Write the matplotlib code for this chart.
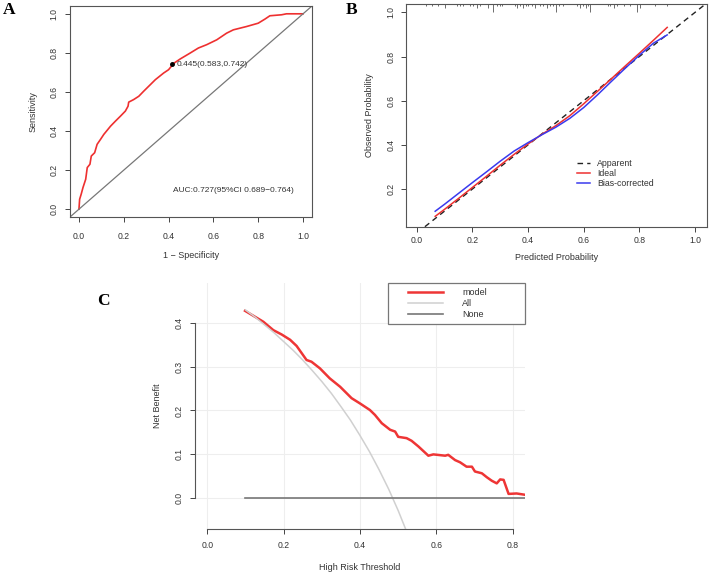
import matplotlib
matplotlib.use("Agg")
import matplotlib.pyplot as plt
import matplotlib.transforms as mtransforms
from matplotlib.legend_handler import HandlerLine2D

plt.rcParams["font.family"] = ["Liberation Sans", "DejaVu Sans"]
plt.rcParams["font.size"] = 6.2
plt.rcParams["text.color"] = "#333333"
plt.rcParams["axes.labelcolor"] = "#333333"
plt.rcParams["xtick.color"] = "#444444"
plt.rcParams["ytick.color"] = "#444444"
plt.rcParams["xtick.labelcolor"] = "#333333"
plt.rcParams["ytick.labelcolor"] = "#333333"

# ---- Panel A: ROC curve ----
roc_fpr = [0.0, 0.003, 0.010, 0.018, 0.030, 0.037, 0.049, 0.055, 0.070, 0.081,
           0.096, 0.111, 0.141, 0.163, 0.185, 0.207, 0.219, 0.222, 0.244, 0.267,
           0.289, 0.319, 0.341, 0.378, 0.400, 0.412, 0.417, 0.452, 0.496, 0.533,
           0.570, 0.615, 0.659, 0.689, 0.748, 0.800, 0.830, 0.852, 0.904, 0.926, 1.0]
roc_tpr = [0.0, 0.051, 0.077, 0.111, 0.153, 0.213, 0.230, 0.272, 0.289, 0.332,
           0.357, 0.383, 0.425, 0.451, 0.476, 0.502, 0.527, 0.548, 0.561, 0.578,
           0.604, 0.638, 0.663, 0.697, 0.714, 0.731, 0.742, 0.769, 0.799, 0.825,
           0.842, 0.867, 0.901, 0.918, 0.935, 0.952, 0.973, 0.990, 0.995, 1.0, 1.0]
cut_point = (0.417, 0.742)
cut_label = "0.445(0.583,0.742)"
auc_label = "AUC:0.727(95%CI 0.689\u22120.764)"
ticks01 = [0.0, 0.2, 0.4, 0.6, 0.8, 1.0]

# ---- Panel B: calibration ----
cal_x = [0.066, 0.1, 0.15, 0.2, 0.25, 0.3, 0.35, 0.4, 0.45, 0.5, 0.55, 0.6,
         0.65, 0.7, 0.75, 0.8, 0.85, 0.9]
ideal_y = [0.076, 0.108, 0.157, 0.207, 0.257, 0.308, 0.357, 0.404, 0.448, 0.487,
           0.532, 0.586, 0.643, 0.700, 0.758, 0.815, 0.873, 0.932]
bias_y = [0.099, 0.131, 0.180, 0.229, 0.277, 0.326, 0.372, 0.410, 0.446, 0.480,
          0.520, 0.569, 0.627, 0.688, 0.748, 0.806, 0.860, 0.898]
rug_x = [0.033, 0.054, 0.075, 0.101, 0.143, 0.155, 0.167, 0.191, 0.201, 0.215,
         0.227, 0.257, 0.273, 0.287, 0.299, 0.305, 0.353, 0.359, 0.371, 0.383,
         0.392, 0.401, 0.413, 0.425, 0.443, 0.455, 0.467, 0.479, 0.491, 0.500,
         0.512, 0.527, 0.575, 0.587, 0.599, 0.608, 0.617, 0.623, 0.689, 0.695,
         0.707, 0.719, 0.743, 0.767, 0.791, 0.803, 0.857, 0.899]
rug_n = [1, 1, 1, 2, 1, 1, 1, 1, 1, 2,
         1, 2, 4, 1, 1, 1, 1, 2, 1, 2,
         1, 1, 1, 2, 1, 1, 2, 1, 1, 4,
         1, 1, 1, 2, 1, 2, 1, 4, 1, 1,
         2, 1, 1, 1, 4, 2, 1, 1]
cal_yticks = [0.2, 0.4, 0.6, 0.8, 1.0]

# ---- Panel C: decision curve ----
dca_x = [0.099, 0.147, 0.173, 0.195, 0.217, 0.234, 0.260, 0.273, 0.295, 0.321,
         0.348, 0.378, 0.400, 0.426, 0.439, 0.457, 0.479, 0.492, 0.500, 0.522,
         0.535, 0.553, 0.579, 0.592, 0.623, 0.631, 0.649, 0.662, 0.679, 0.693,
         0.701, 0.719, 0.732, 0.745, 0.758, 0.767, 0.776, 0.789, 0.810, 0.832]
dca_model = [0.427, 0.402, 0.383, 0.373, 0.361, 0.347, 0.315, 0.311, 0.296, 0.273,
             0.254, 0.228, 0.216, 0.201, 0.190, 0.171, 0.156, 0.152, 0.140, 0.137,
             0.131, 0.118, 0.097, 0.100, 0.097, 0.099, 0.087, 0.082, 0.072, 0.072,
             0.061, 0.057, 0.048, 0.040, 0.034, 0.043, 0.042, 0.010, 0.011, 0.008]
all_x = [0.1, 0.125, 0.15, 0.175, 0.2, 0.225, 0.25, 0.275, 0.3, 0.325, 0.35,
         0.375, 0.4, 0.425, 0.45, 0.475, 0.5, 0.525]
all_y = [0.429, 0.413, 0.395, 0.377, 0.357, 0.337, 0.315, 0.291, 0.266, 0.239,
         0.209, 0.178, 0.143, 0.106, 0.065, 0.021, -0.028, -0.082]
none_x = [0.1, 0.832]
none_y = [0.0, 0.0]
dca_xticks = [0.0, 0.2, 0.4, 0.6, 0.8]
dca_yticks = [0.0, 0.1, 0.2, 0.3, 0.4]

W, H = 709, 574


def box(left, top, right, bottom):
    return [left / W, (H - bottom) / H, (right - left) / W, (bottom - top) / H]


def r_style(ax, xpad, ypad):
    ax.tick_params(direction="out", length=3.5, width=0.7, labelsize=6.2)
    ax.tick_params(axis="x", pad=xpad)
    ax.tick_params(axis="y", pad=ypad, labelrotation=90)
    for lab in ax.get_yticklabels():
        lab.set_va("center")


fig = plt.figure(figsize=(7.09, 5.74), dpi=100)

# Panel A
axA = fig.add_axes(box(70, 6, 312, 217))
axA.plot(roc_fpr, roc_tpr, color="#ee3030", lw=1.2)
axA.axline((0, 0), (1, 1), color="#777777", lw=0.9)
axA.plot(*cut_point, "o", color="black", ms=2.5)
axA.annotate(cut_label, cut_point, xytext=(3, 0), textcoords="offset points",
             va="center", fontsize=6)
axA.text(0.418, 0.094, auc_label, va="center", fontsize=6)
axA.set_xlim(-0.04, 1.04)
axA.set_ylim(-0.04, 1.04)
axA.set_xticks(ticks01)
axA.set_yticks(ticks01)
axA.set_xticklabels([f"{t:.1f}" for t in ticks01])
axA.set_yticklabels([f"{t:.1f}" for t in ticks01])
r_style(axA, 7, 4.5)
axA.set_xlabel("1 \u2212 Specificity", fontsize=6.5, va="center")
axA.set_ylabel("Sensitivity", fontsize=6.5, va="center")
axA.xaxis.set_label_coords(0.5, (217 - 256) / 211)
axA.yaxis.set_label_coords((33 - 70) / 242, 0.5)
for s in axA.spines.values():
    s.set_color("#555555")
    s.set_linewidth(0.8)

# Panel B
axB = fig.add_axes(box(405.7, 4, 706.7, 226.7))
axB.axline((0, 0), (1, 1), color="#222222", lw=1.0, ls=(0, (4, 3)), label="Apparent")
axB.plot(cal_x, ideal_y, color="#ee3030", lw=1.1, label="Ideal")
axB.plot(cal_x, bias_y, color="#3a3aee", lw=1.1, label="Bias-corrected")
trans = mtransforms.blended_transform_factory(axB.transData, axB.transAxes)
rug_len = [0.009 * n + 0.002 for n in rug_n]
axB.vlines(rug_x, [1 - h for h in rug_len], 1, transform=trans,
           color="#555555", lw=0.6)
axB.set_xlim(-0.04, 1.042)
axB.set_ylim(0.029, 1.038)
axB.set_xticks(ticks01)
axB.set_xticklabels([f"{t:.1f}" for t in ticks01])
axB.set_yticks(cal_yticks)
axB.set_yticklabels([f"{t:.1f}" for t in cal_yticks])
r_style(axB, 3.5, 4)
axB.set_xlabel("Predicted Probability", fontsize=6.5, va="center")
axB.set_ylabel("Observed Probability", fontsize=6.5, va="center")
axB.xaxis.set_label_coords(0.5, (226.7 - 258) / 222.7)
axB.yaxis.set_label_coords((370 - 405.7) / 301, 0.5)
for s in axB.spines.values():
    s.set_color("#555555")
    s.set_linewidth(0.8)
legB = axB.legend(loc="upper left", bbox_to_anchor=((577 - 405.7) / 301, (226.7 - 159) / 222.7),
                  frameon=False, fontsize=6.3, handlelength=1.5, handletextpad=0.8,
                  labelspacing=0.12, borderpad=0, borderaxespad=0)

# Panel C
axC = fig.add_axes(box(195, 282.7, 525, 529.3))
for x in dca_xticks:
    axC.axvline(x, color="#eeeeee", lw=0.8, zorder=0)
for y in dca_yticks:
    axC.axhline(y, color="#eeeeee", lw=0.8, zorder=0)
axC.plot(dca_x, dca_model, color="#ee3535", lw=1.8, label="model")
axC.plot(all_x, all_y, color="#d0d0d0", lw=1.1, label="All")
axC.plot(none_x, none_y, color="#777777", lw=1.2, label="None")
axC.set_xlim(-0.032, 0.832)
axC.set_ylim(-0.0706, 0.491)
axC.set_xticks(dca_xticks)
axC.set_xticklabels([f"{t:.1f}" for t in dca_xticks])
axC.set_yticks(dca_yticks)
axC.set_yticklabels([f"{t:.1f}" for t in dca_yticks])
r_style(axC, 5, 5)
axC.spines["top"].set_visible(False)
axC.spines["right"].set_visible(False)
axC.spines["left"].set_bounds(0, 0.4)
axC.spines["bottom"].set_bounds(0, 0.8)
for s in ("left", "bottom"):
    axC.spines[s].set_color("#555555")
    axC.spines[s].set_linewidth(0.8)
axC.set_xlabel("High Risk Threshold", fontsize=6.5, va="center")
axC.set_ylabel("Net Benefit", fontsize=6.5, va="center")
axC.xaxis.set_label_coords(0.5, (529.3 - 567) / 246.6)
axC.yaxis.set_label_coords((158 - 195) / 330, 0.5)
leg_left = (388.3 - 195) / 330
legC = axC.legend(loc="upper left", bbox_to_anchor=(leg_left, 0, 1 - leg_left, 1.0),
                  mode="expand", fontsize=6.5, fancybox=False, edgecolor="#777777",
                  framealpha=1, handlelength=5.5, handletextpad=2.1,
                  labelspacing=0.2, borderpad=0.6, borderaxespad=0,
                  handler_map={plt.Line2D: HandlerLine2D(xpad=1.55)})
legC.get_frame().set_linewidth(0.9)

# panel letters
for letter, (x, y) in {"A": (9, 10), "B": (352, 10), "C": (103, 301)}.items():
    fig.text(x / W, 1 - y / H, letter, fontsize=12.5, fontweight="bold",
             family="Liberation Serif", color="black", ha="center", va="center")

fig.savefig("out.png", dpi=100)
